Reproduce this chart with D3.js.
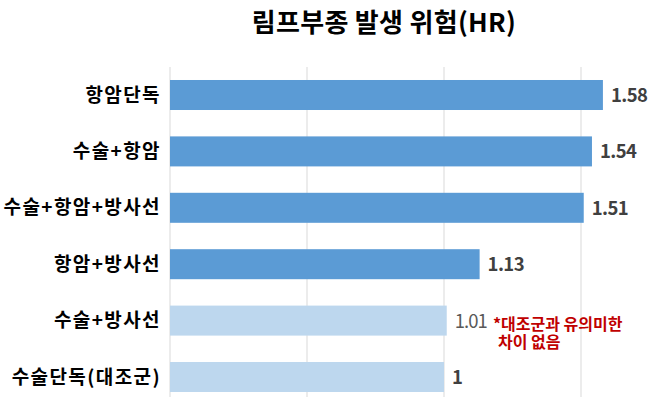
<!DOCTYPE html>
<html><head><meta charset="utf-8">
<script src="https://cdn.jsdelivr.net/npm/d3@7"></script>
<style>body{margin:0;background:#fff}svg{display:block}</style>
</head><body><svg id="c" width="650" height="397"></svg>
<script>
const title = "림프부종 발생 위험(HR)";
const categories = ["항암단독","수술+항암","수술+항암+방사선","항암+방사선","수술+방사선","수술단독(대조군)"];
const values = [1.58,1.54,1.51,1.13,1.01,1];
const significant = [true,true,true,true,false,false];
const valueLabels = ["1.58","1.54","1.51","1.13","1.01","1"];
const gridTicks = [0,0.5,1,1.5];
const note = ["*대조군과 유의미한","차이 없음"];

const svg = d3.select("#c");
const F = "'Noto Sans CJK KR','Noto Sans',sans-serif";
const x = d3.scaleLinear().domain([0,1.5]).range([170,581]);
const y = d3.scaleBand().domain(categories).range([66.8,405.2]).paddingInner(0.468).paddingOuter(0.234);

svg.append("g").selectAll("line").data(gridTicks).join("line")
  .attr("x1",d=>x(d)).attr("x2",d=>x(d)).attr("y1",67).attr("y2",397)
  .attr("stroke","#d9d9d9").attr("stroke-width",1);

const data = categories.map((c,i)=>({c,v:values[i],s:significant[i],l:valueLabels[i]}));
svg.append("g").selectAll("rect").data(data).join("rect")
  .attr("x",x(0)).attr("y",d=>y(d.c)).attr("width",d=>x(d.v)-x(0)).attr("height",y.bandwidth())
  .attr("fill",d=>d.s?"#5B9BD5":"#BDD7EE");

svg.append("g").selectAll("text").data(data).join("text")
  .attr("x",161).attr("y",d=>y(d.c)+y.bandwidth()/2).attr("dy","0.35em")
  .attr("text-anchor","end").attr("font-family",F).attr("font-weight","bold")
  .attr("font-size",19).attr("letter-spacing","1.4px").attr("fill","#000").text(d=>d.c);

svg.append("g").selectAll("text").data(data).join("text")
  .attr("x",d=>x(d.v)+8).attr("y",d=>y(d.c)+y.bandwidth()/2).attr("dy","0.38em")
  .attr("font-family",F).attr("font-weight",d=>d.l==="1.01"?"normal":"bold")
  .attr("font-size",18.5).attr("letter-spacing",d=>d.l==="1.01"?"-1px":"-0.6px")
  .attr("fill",d=>d.l==="1.01"?"#595959":"#404040").text(d=>d.l);

const ny = y(categories[4]) + y.bandwidth()/2;
svg.append("text").attr("font-family",F).attr("font-weight","bold").attr("font-size",16)
  .attr("fill","#C00000")
  .selectAll("tspan").data(note).join("tspan")
  .attr("x",(d,i)=>i===0?493:498).attr("y",(d,i)=>ny+9+i*18).text(d=>d);

svg.append("text").attr("x",384).attr("y",32).attr("text-anchor","middle")
  .attr("font-family",F).attr("font-weight","bold").attr("font-size",26)
  .attr("letter-spacing","0.3px").attr("fill","#000").text(title);
</script></body></html>
